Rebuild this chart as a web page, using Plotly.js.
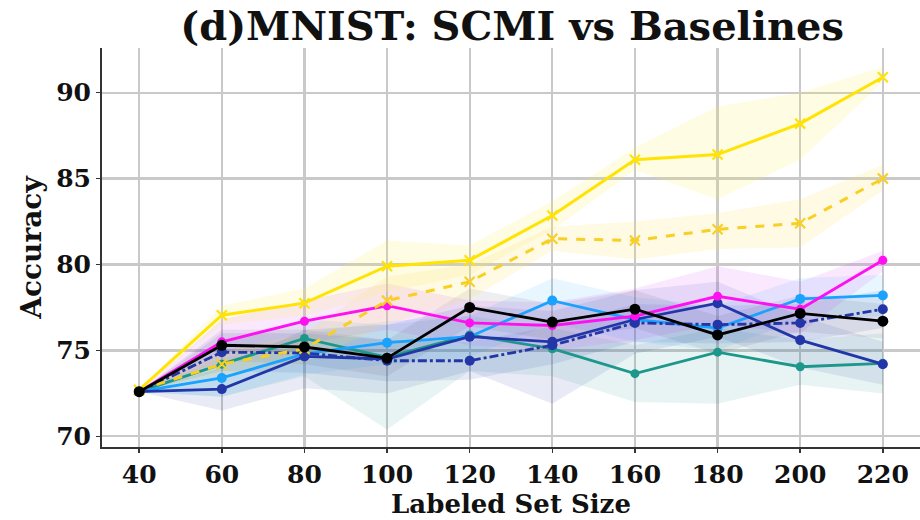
<!DOCTYPE html>
<html>
<head>
<meta charset="utf-8">
<script src="https://cdn.plot.ly/plotly-3.0.1.min.js"></script>
<style>html,body{margin:0;padding:0;background:#fff;}#chart{width:920px;height:520px;}</style>
</head>
<body>
<div id="chart"></div>
<script>
const sizes = [40, 60, 80, 100, 120, 140, 160, 180, 200, 220];

const yellowSolid = [72.7, 77.05, 77.75, 79.9, 80.25, 82.85, 86.1, 86.4, 88.2, 90.9];
const yellowSolidLo = [72.7, 76.5, 77.0, 78.4, 79.4, 82.0, 85.5, 83.8, 86.1, 90.6];
const yellowSolidHi = [72.7, 77.6, 78.6, 81.4, 81.1, 83.7, 86.8, 89.2, 90.0, 91.5];

const yellowDashed = [72.7, 74.2, 75.1, 77.9, 79.0, 81.5, 81.4, 82.05, 82.4, 85.0];
const yellowDashedLo = [72.7, 73.6, 74.3, 76.5, 78.0, 80.8, 80.3, 80.9, 81.0, 84.3];
const yellowDashedHi = [72.7, 74.9, 76.0, 79.3, 80.0, 82.2, 82.5, 83.0, 83.8, 85.8];

const magenta = [72.6, 75.5, 76.7, 77.6, 76.6, 76.45, 77.0, 78.15, 77.4, 80.25];
const magentaLo = [72.6, 74.3, 75.4, 76.2, 75.3, 75.0, 75.6, 76.5, 76.0, 79.6];
const magentaHi = [72.6, 76.8, 77.9, 78.9, 77.9, 77.8, 78.6, 79.9, 79.0, 80.8];

const lightBlue = [72.6, 73.4, 74.8, 75.45, 75.8, 77.9, 76.8, 76.3, 78.0, 78.2];
const lightBlueLo = [72.6, 72.3, 73.6, 74.2, 74.6, 76.6, 75.5, 75.0, 76.8, 77.0];
const lightBlueHi = [72.6, 74.5, 76.0, 76.7, 77.0, 79.2, 78.1, 77.6, 79.2, 79.4];

const darkBlue = [72.6, 72.75, 74.65, 74.5, 75.8, 75.5, 76.8, 77.75, 75.6, 74.2];
const darkBlueLo = [72.6, 71.5, 72.8, 72.5, 73.8, 71.9, 74.8, 75.8, 74.0, 73.0];
const darkBlueHi = [72.6, 74.0, 76.2, 76.5, 77.6, 77.3, 78.5, 79.0, 77.0, 75.5];

const darkBlueDash = [72.6, 74.9, 74.85, 74.4, 74.4, 75.3, 76.6, 76.5, 76.6, 77.4];
const darkBlueDashLo = [72.6, 73.8, 73.7, 73.2, 73.3, 74.2, 75.5, 75.4, 75.5, 76.3];
const darkBlueDashHi = [72.6, 76.0, 76.0, 75.6, 75.5, 76.4, 77.7, 77.6, 77.7, 78.5];

const teal = [72.6, 74.2, 75.7, 74.6, 75.9, 75.1, 73.65, 74.9, 74.05, 74.25];
const tealLo = [72.6, 72.3, 73.5, 70.4, 73.8, 73.5, 72.0, 71.9, 73.0, 72.5];
const tealHi = [72.6, 75.5, 76.8, 76.5, 77.0, 76.3, 75.3, 76.3, 75.6, 76.0];

const black = [72.6, 75.3, 75.2, 74.55, 77.5, 76.65, 77.4, 75.9, 77.15, 76.7];
const blackLo = [72.6, 74.4, 74.2, 73.5, 76.4, 75.6, 76.3, 74.8, 76.1, 75.7];
const blackHi = [72.6, 76.2, 76.2, 75.6, 78.6, 77.7, 78.5, 77.0, 78.2, 77.7];

const xTicks = [40, 60, 80, 100, 120, 140, 160, 180, 200, 220];
const yTicks = [70, 75, 80, 85, 90];

function band(lo, hi, color) {
  return {
    x: sizes.concat(sizes.slice().reverse()),
    y: hi.concat(lo.slice().reverse()),
    fill: 'toself', fillcolor: color, mode: 'none',
    line: {width: 0}, hoverinfo: 'skip', showlegend: false, type: 'scatter'
  };
}
function line(y, color, dash, symbol, msize, lw) {
  return {
    x: sizes, y: y, type: 'scatter', mode: 'lines+markers', showlegend: false,
    line: {color: color, width: lw || 2.8, dash: dash || 'solid'},
    marker: symbol === 'x'
      ? {symbol: 'x-thin', size: msize || 10, color: color, line: {color: color, width: 2.2}}
      : {symbol: 'circle', size: msize || 9, color: color}
  };
}

const C = {
  ys: '#FFE303', yd: '#F8CF22', mg: '#FF10F0', lb: '#1AA2FF',
  db: '#2236A8', tl: '#1C978B', bk: '#000000'
};

const data = [
  band(tealLo, tealHi, 'rgba(28,151,139,0.10)'),
  band(darkBlueLo, darkBlueHi, 'rgba(34,54,168,0.10)'),
  band(darkBlueDashLo, darkBlueDashHi, 'rgba(34,54,168,0.10)'),
  band(lightBlueLo, lightBlueHi, 'rgba(26,162,255,0.10)'),
  band(magentaLo, magentaHi, 'rgba(220,80,255,0.13)'),
  band(blackLo, blackHi, 'rgba(40,40,60,0.08)'),
  band(yellowDashedLo, yellowDashedHi, 'rgba(250,225,90,0.16)'),
  band(yellowSolidLo, yellowSolidHi, 'rgba(255,235,90,0.16)'),
  line(teal, C.tl, 'solid', 'o', 9),
  line(lightBlue, C.lb, 'solid', 'o', 10),
  line(darkBlue, C.db, 'solid', 'o', 10),
  line(darkBlueDash, C.db, 'dashdot', 'o', 10),
  line(magenta, C.mg, 'solid', 'o', 9),
  line(yellowDashed, C.yd, 'dash', 'x', 10, 3),
  line(yellowSolid, C.ys, 'solid', 'x', 10, 3),
  line(black, C.bk, 'solid', 'o', 11)
];

const fam = '"DejaVu Serif", serif';

const layout = {
  width: 920, height: 520,
  margin: {l: 102, r: 0, t: 48, b: 73},
  paper_bgcolor: '#fff', plot_bgcolor: '#fff',
  title: {text: '<b>(d)MNIST: SCMI vs Baselines</b>', x: 0.5567, xanchor: 'center', y: 0.95, yanchor: 'middle',
          font: {family: fam, size: 40, color: '#111'}},
  xaxis: {
    range: [31, 229], tickvals: xTicks, ticktext: xTicks.map(v => '<b>' + v + '</b>'),
    tickfont: {family: fam, size: 25, color: '#111'},
    showgrid: true, gridcolor: '#c9c9c9', gridwidth: 2.2,
    showline: true, linecolor: '#333', linewidth: 2,
    ticks: 'outside', ticklen: 4, tickwidth: 1.5, tickcolor: '#333',
    zeroline: false,
    title: {text: '<b>Labeled Set Size</b>', font: {family: fam, size: 26, color: '#111'}, standoff: 6}
  },
  yaxis: {
    range: [69.38, 92.6], tickvals: yTicks, ticktext: yTicks.map(v => '<b>' + v + '</b>'),
    tickfont: {family: fam, size: 25, color: '#111'},
    showgrid: true, gridcolor: '#c9c9c9', gridwidth: 2.2,
    showline: true, linecolor: '#333', linewidth: 2,
    ticks: 'outside', ticklen: 4, tickwidth: 1.5, tickcolor: '#333',
    zeroline: false,
    title: {text: '<b>Accuracy</b>', font: {family: fam, size: 28, color: '#111'}, standoff: 6}
  }
};

Plotly.newPlot('chart', data, layout, {displayModeBar: false, staticPlot: true});
</script>
</body>
</html>
